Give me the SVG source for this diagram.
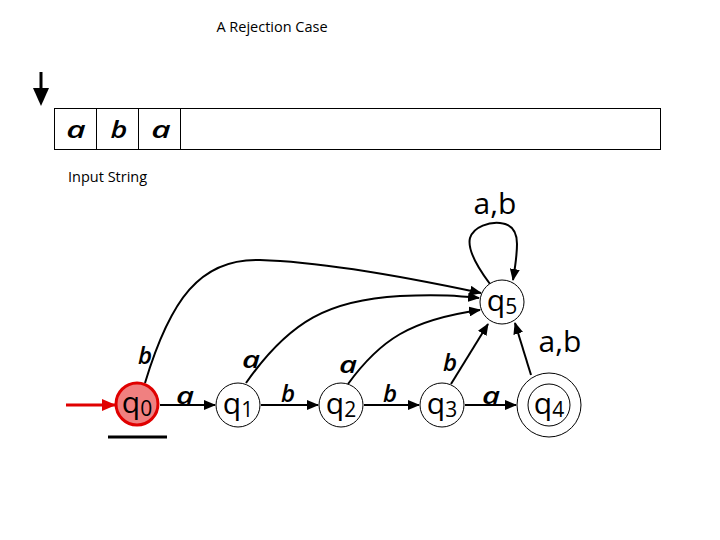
<svg xmlns="http://www.w3.org/2000/svg" width="720" height="540" viewBox="0 0 720 540">
<defs>
<marker id="ah" markerWidth="12" markerHeight="10" refX="11" refY="5" orient="auto" markerUnits="userSpaceOnUse">
<path d="M0,0 L12,5 L0,10 Z" fill="#000"/>
</marker>
<marker id="ahr" markerWidth="14" markerHeight="12" refX="13" refY="6" orient="auto" markerUnits="userSpaceOnUse">
<path d="M0,0 L14,6 L0,12 Z" fill="#e00000"/>
</marker>
<style>
.title{font-family:"Open Sans","Liberation Sans",sans-serif;font-size:14.5px;fill:#000}
.cap{font-family:"Open Sans","Liberation Sans",sans-serif;font-size:14.5px;fill:#000}
.tape{font-family:"Open Sans","Liberation Sans",sans-serif;font-style:italic;font-weight:600;font-size:24px;fill:#000}
.lbl{font-family:"Open Sans","Liberation Sans",sans-serif;font-style:italic;font-weight:600;font-size:24px;fill:#000}
.lbl2{font-family:"Open Sans","Liberation Sans",sans-serif;font-size:30px;fill:#000}
.st{font-family:"Open Sans","Liberation Sans",sans-serif;font-size:30px;fill:#000}
.sub{font-size:21px}
.node{fill:#fff;stroke:#000;stroke-width:1}
.edge{fill:none;stroke:#000;stroke-width:2}
</style>
</defs>
<text class="title" x="272" y="32" text-anchor="middle">A Rejection Case</text>
<g id="head">
<line x1="41" y1="72" x2="41" y2="92" stroke="#000" stroke-width="3"/>
<path d="M33,88 L49,88 L41,106 Z" fill="#000"/>
</g>
<g id="tape">
<rect x="54.5" y="108.5" width="606" height="41" fill="#fff" stroke="#000" stroke-width="1"/>
<line x1="96.5" y1="108" x2="96.5" y2="150" stroke="#000"/>
<line x1="138.5" y1="108" x2="138.5" y2="150" stroke="#000"/>
<line x1="180.5" y1="108" x2="180.5" y2="150" stroke="#000"/>
<text class="tape" x="76" y="138" text-anchor="middle" transform="translate(76 0) scale(1.4 1) translate(-76 0)">a</text>
<text class="tape" x="119" y="138" text-anchor="middle" transform="translate(119 0) scale(1.2 1) translate(-119 0)">b</text>
<text class="tape" x="161" y="138" text-anchor="middle" transform="translate(161 0) scale(1.4 1) translate(-161 0)">a</text>
</g>
<text class="cap" x="68" y="182">Input String</text>
<g id="connectors">
<line x1="66" y1="405" x2="115" y2="405" stroke="#e00000" stroke-width="3" marker-end="url(#ahr)"/>
<line class="edge" x1="160" y1="405" x2="215" y2="405" marker-end="url(#ah)"/>
<line class="edge" x1="261" y1="405" x2="318" y2="405" marker-end="url(#ah)"/>
<line class="edge" x1="364" y1="405" x2="419" y2="405" marker-end="url(#ah)"/>
<line class="edge" x1="465" y1="405" x2="516" y2="405" marker-end="url(#ah)"/>
<path class="edge" d="M145,383 C170,300 200,258 260,260 C330,262 420,280 481,293" marker-end="url(#ah)"/>
<path class="edge" d="M246,383 C290,320 330,300 400,296 C440,294 460,296 479,298" marker-end="url(#ah)"/>
<path class="edge" d="M348,384 C380,340 410,320 480,310" marker-end="url(#ah)"/>
<line class="edge" x1="451" y1="384" x2="488" y2="324" marker-end="url(#ah)"/>
<line class="edge" x1="531" y1="375" x2="515" y2="323" marker-end="url(#ah)"/>
<path class="edge" d="M490,284 C478,268 467,250 470,238 C474,226 490,222 500,223 C512,224 517,232 517,244 C517,256 515,268 513,280" marker-end="url(#ah)"/>
</g>
<g id="labels">
<text class="lbl" x="145" y="364" text-anchor="middle">b</text>
<text class="lbl" x="185" y="404" text-anchor="middle" transform="translate(185 0) scale(1.3 1) translate(-185 0)">a</text>
<text class="lbl" x="251" y="368" text-anchor="middle" transform="translate(251 0) scale(1.3 1) translate(-251 0)">a</text>
<text class="lbl" x="288" y="402" text-anchor="middle">b</text>
<text class="lbl" x="348" y="373" text-anchor="middle" transform="translate(348 0) scale(1.3 1) translate(-348 0)">a</text>
<text class="lbl" x="390" y="402" text-anchor="middle">b</text>
<text class="lbl" x="450" y="371" text-anchor="middle">b</text>
<text class="lbl" x="491" y="404" text-anchor="middle" transform="translate(491 0) scale(1.3 1) translate(-491 0)">a</text>
<text class="lbl2" x="495" y="214" text-anchor="middle">a,b</text>
<text class="lbl2" x="560" y="352" text-anchor="middle">a,b</text>
</g>
<g id="q0">
<circle cx="137" cy="404" r="21" fill="#f08080" stroke="#e00000" stroke-width="3"/>
<text class="st" x="137" y="413" text-anchor="middle">q<tspan class="sub" dy="3">0</tspan></text>
</g>
<line x1="108" y1="437" x2="167" y2="437" stroke="#000" stroke-width="3"/>
<g id="q1">
<circle class="node" cx="238" cy="405" r="22"/>
<text class="st" x="238" y="414" text-anchor="middle">q<tspan class="sub" dy="3">1</tspan></text>
</g>
<g id="q2">
<circle class="node" cx="341" cy="405" r="22"/>
<text class="st" x="341" y="414" text-anchor="middle">q<tspan class="sub" dy="3">2</tspan></text>
</g>
<g id="q3">
<circle class="node" cx="442" cy="405" r="22"/>
<text class="st" x="442" y="414" text-anchor="middle">q<tspan class="sub" dy="3">3</tspan></text>
</g>
<g id="q4">
<circle class="node" cx="549" cy="405" r="32"/>
<circle class="node" cx="549" cy="405" r="21"/>
<text class="st" x="549" y="414" text-anchor="middle">q<tspan class="sub" dy="3">4</tspan></text>
</g>
<g id="q5">
<circle class="node" cx="502" cy="302" r="22"/>
<text class="st" x="502" y="311" text-anchor="middle">q<tspan class="sub" dy="3">5</tspan></text>
</g>
</svg>
